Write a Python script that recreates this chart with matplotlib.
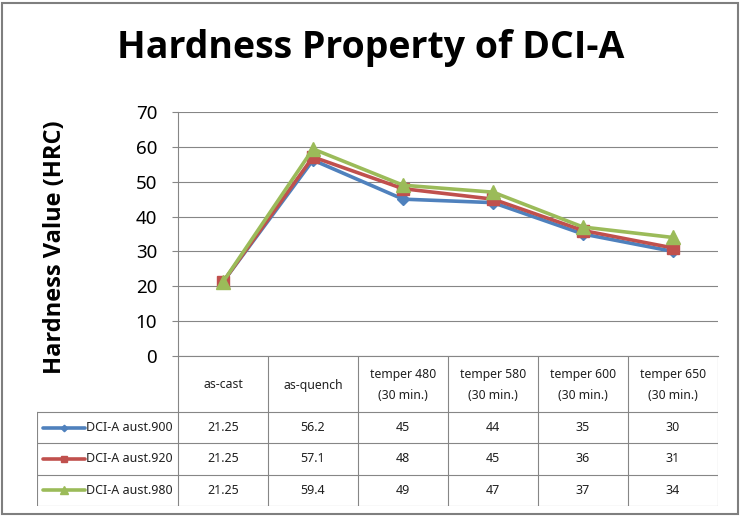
import matplotlib.pyplot as plt
from matplotlib.patches import Rectangle

# chart data
categories = ['as-cast', 'as-quench', 'temper 480\n(30 min.)', 'temper 580\n(30 min.)',
              'temper 600\n(30 min.)', 'temper 650\n(30 min.)']
series_names = ['DCI-A aust.900', 'DCI-A aust.920', 'DCI-A aust.980']
aust_900 = [21.25, 56.2, 45, 44, 35, 30]
aust_920 = [21.25, 57.1, 48, 45, 36, 31]
aust_980 = [21.25, 59.4, 49, 47, 37, 34]
table_text = [['21.25', '56.2', '45', '44', '35', '30'],
              ['21.25', '57.1', '48', '45', '36', '31'],
              ['21.25', '59.4', '49', '47', '37', '34']]
y_ticks = [0, 10, 20, 30, 40, 50, 60, 70]

colors = ['#4F81BD', '#C0504D', '#9BBB59']
markers = ['D', 's', '^']
msizes = [6, 9, 10]
grid_c = '#868686'

plt.rcParams['font.family'] = ['Noto Sans', 'DejaVu Sans']

W, H = 741, 517
fig = plt.figure(figsize=(W / 100, H / 100), dpi=100)

# plot area in pixels
L, R, T, B = 178, 718, 112, 356
ax = fig.add_axes([L / W, 1 - B / H, (R - L) / W, (B - T) / H])

x = list(range(len(categories)))
for vals, c, m, ms, name in zip([aust_900, aust_920, aust_980], colors, markers, msizes, series_names):
    ax.plot(x, vals, color=c, lw=2.6, marker=m, markersize=ms, label=name, clip_on=False, zorder=3)

ax.set_xlim(-0.5, len(categories) - 0.5)
ax.set_ylim(0, 70)
ax.set_yticks(y_ticks)
ax.set_xticks([])
ax.yaxis.grid(True, color=grid_c, lw=0.8)
ax.set_axisbelow(True)
for s in ['top', 'right']:
    ax.spines[s].set_visible(False)
for s in ['left', 'bottom']:
    ax.spines[s].set_color(grid_c)
    ax.spines[s].set_linewidth(0.8)
ax.tick_params(axis='y', length=4, color=grid_c, labelsize=13.5, pad=11)

bold_font = ['Open Sans', 'DejaVu Sans']
ax.set_ylabel('Hardness Value (HRC)', fontsize=17, fontweight='bold', family=bold_font)
ax.yaxis.set_label_coords(-(L - 67) / (R - L), 0.445)

fig.text(0.5, 1 - 48 / H, 'Hardness Property of DCI-A', ha='center', va='center',
         fontsize=27, fontweight='bold', family=bold_font)

# data table below the plot
TL, TB = 37, 506
head_h = 56
row_h = (TB - B - head_h) / 3
tab = fig.add_axes([TL / W, 1 - TB / H, (R - TL) / W, (TB - B) / H])
lab_w = (L - TL) / 90
tab.set_xlim(-0.5 - lab_w, len(categories) - 0.5)
tab.set_ylim(TB - B, 0)
tab.axis('off')

row_y = [head_h + i * row_h for i in range(4)]
for y in row_y:
    tab.plot([-0.5 - lab_w, len(categories) - 0.5], [y, y], color=grid_c, lw=0.8)
for i in range(len(categories) + 1):
    tab.plot([i - 0.5, i - 0.5], [0, TB - B], color=grid_c, lw=0.8)
tab.plot([-0.5 - lab_w] * 2, [head_h, TB - B], color=grid_c, lw=0.8)

for i, cat in enumerate(categories):
    tab.text(i, head_h / 2 + 1, cat, ha='center', va='center', fontsize=8.8, linespacing=1.75,
             color='#202020')
for r, row in enumerate(table_text):
    yc = head_h + (r + 0.5) * row_h
    for i, v in enumerate(row):
        tab.text(i, yc, v, ha='center', va='center', fontsize=9, color='#202020')
    x0 = -0.5 - lab_w + 6 / 90
    x1 = x0 + 42 / 90
    tab.plot([x0, x1], [yc, yc], color=colors[r], lw=2.6, solid_capstyle='round')
    tab.plot([(x0 + x1) / 2], [yc], color=colors[r], marker=markers[r], markersize=msizes[r] * 0.55)
    tab.text(x1 + 1 / 90, yc, series_names[r], ha='left', va='center', fontsize=9, color='#202020')

fig.add_artist(Rectangle((2 / W, 3 / H), (W - 5) / W, (H - 6) / H, transform=fig.transFigure,
                         fill=False, edgecolor='#7f7f7f', lw=1.5))

fig.savefig('out.png', dpi=100)
